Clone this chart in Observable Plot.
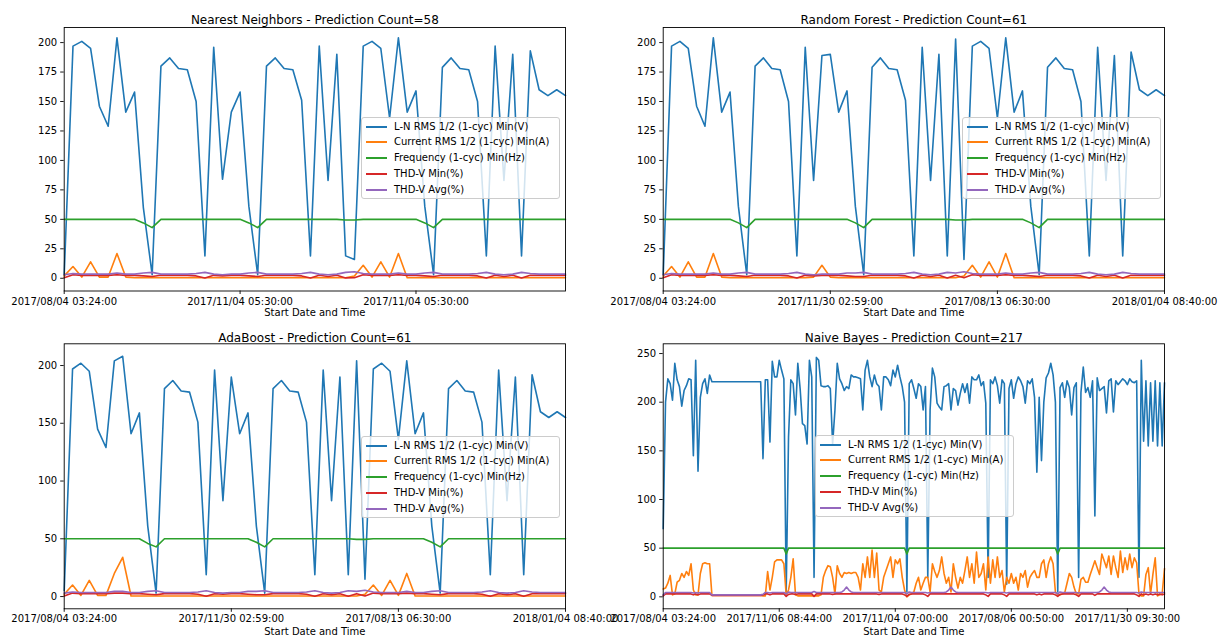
<!DOCTYPE html>
<html><head><meta charset="utf-8">
<script src="https://cdn.jsdelivr.net/npm/d3@7"></script>
<script src="https://cdn.jsdelivr.net/npm/@observablehq/plot@0.6"></script>
<style>
html,body{margin:0;padding:0;background:#fff;}
#root{position:relative;width:1224px;height:641px;overflow:hidden;font-family:"DejaVu Sans",sans-serif;}
.panel{position:absolute;}
.panel svg{overflow:visible;}
.legend{position:absolute;width:199px;height:82px;background:rgba(255,255,255,0.8);border:1px solid #cccccc;border-radius:3px;box-sizing:border-box;font-family:"DejaVu Sans",sans-serif;font-size:10px;color:#000;}
.legend .row{position:absolute;left:0;width:196px;height:14px;line-height:14px;white-space:nowrap;}
.legend .sw{position:absolute;left:4px;top:6px;width:21px;height:2px;}
.legend .lab{position:absolute;left:32px;top:0;}
</style></head>
<body><div id="root"></div>
<script>
// ---------- data ----------
const seriesNames = ["L-N RMS 1/2 (1-cyc) Min(V)", "Current RMS 1/2 (1-cyc) Min(A)", "Frequency (1-cyc) Min(Hz)", "THD-V Min(%)", "THD-V Avg(%)"];
const seriesColors = ["#1f77b4", "#ff7f0e", "#2ca02c", "#d62728", "#9467bd"];
const xAxisTitle = "Start Date and Time";

// Nearest Neighbors (58)
const nnTitle = "Nearest Neighbors - Prediction Count=58";
const nnVoltage = [3,197,201,195,146,129,204,141,158,60,
 3,180,187,178,177,150,19,196,84,141,
 158,61,3,180,187,178,177,151,19,197,
 83,190,19,16,197,201,195,136,204,141,
 159,61,3,179,187,178,177,150,19,197,
 83,190,19,193,160,155,160,155];
const nnCurrent = [2,10,1,14,1,1,21,1,0.5,0.5,
 0.5,0.5,0.5,0.5,0.5,0.5,0.5,0.5,0.5,0.5,
 0.5,0.5,0.5,0.5,0.5,0.5,0.5,0.5,0.5,0.5,
 0.5,0.5,0.5,2,11,1,14,1,21,0.5,
 0.5,0.5,0.5,0.5,0.5,0.5,0.5,0.5,0.5,0.5,
 0.5,0.5,0.5,0.5,0.5,0.5,0.5,0.5];
const nnFrequency = [50,50,50,50,50,50,50,50,50,47,
 43,50,50,50,50,50,50,50,50,50,
 50,47,43,50,50,50,50,50,50,50,
 50,50,49.5,49.5,50,50,50,50,50,50,
 50,47,43,50,50,50,50,50,50,50,
 50,50,50,50,50,50,50,50];
const nnThdMin = [0.5,3,2.5,2.5,2.5,2.5,3,2.5,2.5,2,
 1.5,2.5,2.5,2.5,2.5,2,0.3,2.5,2,2.5,
 2.5,2,1.5,2.5,2.5,2.5,2.5,2,0.3,2.5,
 1.5,2.5,0.3,0.5,3,2.5,2.5,2.5,3,2.5,
 2.5,2,1.5,2.5,2.5,2.5,2.5,2,0.3,2.5,
 1.5,2.5,0.3,2.5,2.5,2.5,2.5,2.5];
const nnThdAvg = [3,4,3.5,3.5,3.5,3.5,4.5,3.5,3.5,4.5,
 5,3.5,3.5,3.5,3.5,4,5,3.5,3,3.5,
 3.5,4.5,5,3.5,3.5,3.5,3.5,4,5,3.5,
 3,3.5,5,5.5,4,3.5,3.5,3.5,4.5,3.5,
 3.5,4.5,5,3.5,3.5,3.5,3.5,4,5,3.5,
 3,3.5,5,4,3.5,3.5,3.5,3.5];
const nnTickIndex = [0,20,40];
const nnTickLabels = ["2017/08/04 03:24:00","2017/11/04 05:30:00","2017/11/04 05:30:00"];
const nnYTicks = [0,25,50,75,100,125,150,175,200];

// Random Forest (61)
const rfTitle = "Random Forest - Prediction Count=61";
const rfVoltage = [3,197,201,195,146,129,204,141,158,61,
 3,180,187,178,177,150,19,196,83,189,
 190,141,159,61,3,179,187,178,177,151,
 19,196,83,190,19,203,16,197,201,195,
 136,204,141,159,61,3,179,187,178,177,
 150,19,196,83,189,19,192,160,155,160,155];
const rfCurrent = [2,10,1,14,1,1,21,1,0.5,0.5,
 0.5,0.5,0.5,0.5,0.5,0.5,0.5,0.5,1,11,
 1,0.5,0.5,0.5,0.5,0.5,0.5,0.5,0.5,0.5,
 0.5,0.5,0.5,0.5,0.5,0.5,2,11,1,14,
 1,21,0.5,0.5,0.5,0.5,0.5,0.5,0.5,0.5,
 0.5,0.5,0.5,0.5,0.5,0.5,0.5,0.5,0.5,0.5,0.5];
const rfFrequency = [50,50,50,50,50,50,50,50,50,47,
 43,50,50,50,50,50,50,50,50,50,
 50,50,50,47,43,50,50,50,50,50,
 50,50,50,50,50,49.5,49.5,50,50,50,
 50,50,50,50,47,43,50,50,50,50,
 50,50,50,50,50,50,50,50,50,50,50];
const rfThdMin = [0.5,3,2.5,2.5,2.5,2.5,3,2.5,2.5,2,
 1.5,2.5,2.5,2.5,2.5,2,0.3,2.5,2,2.5,
 2.5,2.5,2,1.5,1.5,2.5,2.5,2.5,2.5,2,
 0.3,2.5,1.5,2.5,0.3,2.5,0.5,3,2.5,2.5,
 2.5,3,2.5,2.5,2,1.5,2.5,2.5,2.5,2.5,
 2,0.3,2.5,1.5,2.5,0.3,2.5,2.5,2.5,2.5,2.5];
const rfThdAvg = [3,4,3.5,3.5,3.5,3.5,4.5,3.5,3.5,4.5,
 5,3.5,3.5,3.5,3.5,4,5,3.5,3,3.5,
 3.5,3.5,4.5,4.5,5,3.5,3.5,3.5,3.5,4,
 5,3.5,3,3.5,5,4.5,5.5,4,3.5,3.5,
 3.5,4.5,3.5,3.5,4.5,5,3.5,3.5,3.5,3.5,
 4,5,3.5,3,3.5,5,4,3.5,3.5,3.5,3.5];
const rfTickIndex = [0,20,40,60];
const rfTickLabels = ["2017/08/04 03:24:00","2017/11/30 02:59:00","2017/08/13 06:30:00","2018/01/04 08:40:00"];
const rfYTicks = [0,25,50,75,100,125,150,175,200];

// AdaBoost (61)
const abTitle = "AdaBoost - Prediction Count=61";
const abVoltage = [5,197,202,195,145,129,204,208,141,159,
 61,3,180,187,178,177,151,19,196,83,
 190,141,159,61,3,180,187,178,177,151,
 19,196,83,190,19,204,15,197,202,195,
 136,204,141,159,61,3,180,187,178,177,
 151,19,196,83,190,19,192,160,155,160,155];
const abCurrent = [2,10,1,14,1,1,20,34,0.5,0.5,
 0.5,0.5,0.5,0.5,0.5,0.5,0.5,0.5,0.5,0.5,
 0.5,0.5,0.5,0.5,0.5,0.5,0.5,0.5,0.5,0.5,
 0.5,0.5,0.5,0.5,0.5,0.5,2,10,1,14,
 1,20,0.5,0.5,0.5,0.5,0.5,0.5,0.5,0.5,
 0.5,0.5,0.5,0.5,0.5,0.5,0.5,0.5,0.5,0.5,0.5];
const abFrequency = [50,50,50,50,50,50,50,50,50,50,
 46,43,50,50,50,50,50,50,50,50,
 50,50,50,47,43,50,50,50,50,50,
 50,50,50,50,50,49.5,49.5,50,50,50,
 50,50,50,50,47,43,50,50,50,50,
 50,50,50,50,50,50,50,50,50,50,50];
const abThdMin = [0.5,3,2.5,2.5,2.5,2.5,3,3,2.5,2.5,
 2,1.5,2.5,2.5,2.5,2.5,2,0.3,2.5,2,
 2.5,2.5,2,1.5,1.5,2.5,2.5,2.5,2.5,2,
 0.3,2.5,1.5,2.5,0.3,2.5,0.5,3,2.5,2.5,
 2.5,3,2.5,2.5,2,1.5,2.5,2.5,2.5,2.5,
 2,0.3,2.5,1.5,2.5,0.3,2.5,2.5,2.5,2.5,2.5];
const abThdAvg = [3,4,3.5,3.5,3.5,3.5,4.5,4.5,3.5,3.5,
 4.5,5,3.5,3.5,3.5,3.5,4,5,3.5,3,
 3.5,3.5,4.5,4.5,5,3.5,3.5,3.5,3.5,4,
 5,3.5,3,3.5,5,4.5,5.5,4,3.5,3.5,
 3.5,4.5,3.5,3.5,4.5,5,3.5,3.5,3.5,3.5,
 4,5,3.5,3,3.5,5,4,3.5,3.5,3.5,3.5];
const abTickIndex = [0,20,40,60];
const abTickLabels = ["2017/08/04 03:24:00","2017/11/30 02:59:00","2017/08/13 06:30:00","2018/01/04 08:40:00"];
const abYTicks = [0,50,100,150,200];

// Naive Bayes (217)
const nbTitle = "Naive Bayes - Prediction Count=217";
const nbVoltage = [70,200,224,219,202,240,223,216,196,212,
 217,224,223,145,243,129,205,219,224,209,
 228,221,221,221,221,221,221,221,221,221,
 221,221,221,221,221,221,221,221,221,221,
 221,221,221,142,223,223,159,242,226,226,
 243,233,224,5,164,223,219,187,240,214,
 178,176,157,243,226,20,246,243,217,216,
 216,217,214,157,192,240,224,219,212,216,
 214,228,226,226,225,224,192,233,243,226,
 216,228,219,216,192,226,226,223,217,233,
 226,238,226,216,200,5,219,223,214,204,
 219,216,192,216,20,192,235,226,199,195,
 192,216,217,219,192,214,212,197,209,219,
 210,219,199,226,223,223,228,217,221,199,
 20,223,219,226,217,199,223,219,13,214,
 223,204,219,226,222,216,199,222,219,224,
 205,128,205,140,200,225,230,240,228,200,
 5,215,220,205,222,215,187,215,220,20,
 210,236,210,215,205,222,83,225,212,214,
 216,189,222,224,190,222,218,221,224,222,
 218,224,221,220,222,20,243,160,222,155,
 220,160,222,155,220,155,220];
const nbCurrent = [8,9,14,22,2,3,15,17,24,20,
 26,22,34,7,2,2,24,34,35,34,
 34,1.5,1.5,1.5,1.5,1.5,1.5,1.5,1.5,1.5,
 1.5,1.5,1.5,1.5,1.5,1.5,1.5,1.5,1.5,1.5,
 1.5,1.5,1.5,1,1,26,7,20,36,38,
 38,38,34,2,7,20,39,2,1,1,
 1,1,1,1,1,1,1,1,2,20,
 27,32,31,20,3,32,24,20,25,24,
 25,24,25,25,20,7,34,20,41,20,
 48,20,45,7,5,20,27,34,41,20,
 38,34,39,20,7,0,2,3,5,14,
 20,7,14,20,20,5,34,26,20,27,
 41,24,14,20,5,34,20,9,20,14,
 27,41,20,34,14,46,20,24,34,7,
 41,14,38,20,41,20,27,5,20,14,
 24,14,20,7,24,20,27,10,20,24,
 27,20,20,34,38,20,34,41,34,5,
 2,2,3,4,14,24,20,10,3,3,
 18,20,15,15,23,30,37,30,23,44,
 37,30,42,23,42,30,20,47,25,40,
 28,44,30,40,35,3,1,1,23,30,
 3,23,40,1,2,3,29];
const nbFrequency = [50,50,50,50,50,50,50,50,50,50,
 50,50,50,50,50,50,50,50,50,50,
 50,50,50,50,50,50,50,50,50,50,
 50,50,50,50,50,50,50,50,50,50,
 50,50,50,50,50,50,50,50,50,50,
 50,50,50,44,50,50,50,50,50,50,
 50,50,50,50,50,50,50,50,50,50,
 50,50,50,50,50,50,50,50,50,50,
 50,50,50,50,50,50,50,50,50,50,
 50,50,50,50,50,50,50,50,50,50,
 50,50,50,50,50,44,50,50,50,50,
 50,50,50,50,50,50,50,50,50,50,
 50,50,50,50,50,50,50,50,50,50,
 50,50,50,50,50,50,50,50,50,50,
 50,50,50,50,50,50,50,50,50,50,
 50,50,50,50,50,50,50,50,50,50,
 50,50,50,50,50,50,50,50,50,50,
 44,50,50,50,50,50,50,50,50,50,
 50,50,50,50,50,50,50,50,50,50,
 50,50,50,50,50,50,50,50,50,50,
 50,50,50,50,50,50,50,50,50,50,
 50,50,50,50,50,50,50];
const nbThdMin = [1,3,3,3,3,3,3,3,3,3,
 3,3,3,2,3,2,3,3,3,3,
 3,1.5,1.5,1.5,1.5,1.5,1.5,1.5,1.5,1.5,
 1.5,1.5,1.5,1.5,1.5,1.5,1.5,1.5,1.5,1.5,
 1.5,1.5,1.5,2,3,3,2,3,3,3,
 3,3,3,0.5,2.5,3,3,2.5,3,3,
 3,3,3,3,3,0.5,3,3,3,3,
 3,3,3,2.5,3,3,3,3,3,3,
 3,3,3,3,3,3,3,3,3,3,
 3,3,3,2.5,3,3,3,3,3,3,
 3,3,3,3,2,0.5,2.5,3,3,3,
 3,3,3,2,0.5,3,3,3,3,3,
 3,3,3,3,3,3,3,3,3,3,
 3,3,3,3,3,3,3,3,3,2,
 0.5,3,3,3,3,3,3,2,0.5,3,
 3,3,3,3,3,3,3,3,3,3,
 3,2,3,2,3,3,3,3,3,2,
 0.5,2.5,3,3,3,3,3,3,2,0.5,
 3,3,3,3,3,3,1.5,3,3,3,
 3,3,3,3,3,3,3,3,3,3,
 3,3,3,3,2,0.5,3,2,3,2,
 3,2,3,2,3,2,3];
const nbThdAvg = [2,4.5,4.5,4.5,4.5,4.5,4.5,4.5,4.5,4.5,
 4.5,4.5,4.5,4,4.5,4,4.5,4.5,4.5,4.5,
 4.5,2,2,2,2,2,2,2,2,2,
 2,2,2,2,2,2,2,2,2,2,
 2,2,2,2.5,4.5,4.5,4,4.5,4.5,4.5,
 4.5,4.5,4.5,3,5,4.5,4.5,4.5,4.5,4.5,
 4.5,4.5,4.5,4.5,4.5,5.5,4.5,4.5,4.5,4.5,
 4.5,4.5,4.5,4.5,4.5,4.5,4.5,5,7,10,
 7,5,4.5,4.5,4.5,4.5,4.5,4.5,4.5,4.5,
 4.5,4.5,4.5,4.5,4.5,4.5,4.5,4.5,4.5,4.5,
 4.5,4.5,4.5,4.5,4.5,3,5,4.5,4.5,4.5,
 4.5,4.5,4.5,4.5,4,4.5,4.5,4.5,4.5,4.5,
 4.5,4.5,5,7,10,7,5,4.5,4.5,4.5,
 4.5,4.5,4.5,4.5,4.5,4.5,4.5,4.5,4.5,4.5,
 4,4.5,4.5,4.5,4.5,4.5,4.5,4.5,4,4.5,
 4.5,4.5,4.5,4.5,4.5,4.5,4.5,4.5,4.5,4.5,
 4.5,4.5,4.5,4.5,4.5,4.5,4.5,4.5,4.5,4.5,
 3,5,4.5,4.5,4.5,4.5,4.5,4.5,4.5,4,
 4.5,4.5,4.5,4.5,4.5,4.5,4.5,4.5,5,7,
 10,7,5,4.5,4.5,4.5,4.5,4.5,4.5,4.5,
 4.5,4.5,4.5,4.5,4.5,4,5,4.5,4.5,4.5,
 4.5,4.5,4.5,4.5,4.5,4.5,4.5];
const nbTickIndex = [0,50,100,150,200];
const nbTickLabels = ["2017/08/04 03:24:00","2017/11/06 08:44:00","2017/11/04 07:00:00","2017/08/06 00:50:00","2017/11/30 09:30:00"];
const nbYTicks = [0,50,100,150,200,250];

// ---------- layout ----------
const panels = [
  {title: nnTitle, series: [nnVoltage, nnCurrent, nnFrequency, nnThdMin, nnThdAvg], ticks: nnTickIndex, labels: nnTickLabels, yTicks: nnYTicks,
   yDomain: [-10.8, 212.8], left: 0, top: 0, width: 612, height: 320, mt: 27, mb: 29.5, mr: 47, titleDy: -12, xlabDy: 24.5, legend: [361, 116.5]},
  {title: rfTitle, series: [rfVoltage, rfCurrent, rfFrequency, rfThdMin, rfThdAvg], ticks: rfTickIndex, labels: rfTickLabels, yTicks: rfYTicks,
   yDomain: [-10.8, 212.8], left: 599, top: 0, width: 625, height: 320, mt: 27, mb: 29.5, mr: 60, titleDy: -12, xlabDy: 24.5, legend: [962, 116.5]},
  {title: abTitle, series: [abVoltage, abCurrent, abFrequency, abThdMin, abThdAvg], ticks: abTickIndex, labels: abTickLabels, yTicks: abYTicks,
   yDomain: [-10.6, 218.8], left: 0, top: 320, width: 612, height: 321, mt: 23.3, mb: 32.7, mr: 47, titleDy: -10, xlabDy: 26, legend: [361, 435.5]},
  {title: nbTitle, series: [nbVoltage, nbCurrent, nbFrequency, nbThdMin, nbThdAvg], ticks: nbTickIndex, labels: nbTickLabels, yTicks: nbYTicks,
   yDomain: [-12.3, 260], left: 599, top: 320, width: 625, height: 321, mt: 23.3, mb: 32.7, mr: 60, titleDy: -10, xlabDy: 26, legend: [815, 434.7]}
];

const root = document.getElementById("root");

for (const p of panels) {
  const n = p.series[0].length;
  const idx = d3.range(n);
  const marks = [];
  p.series.forEach((arr, k) => {
    marks.push(Plot.line(idx, {x: (i) => i, y: (i) => arr[i], stroke: seriesColors[k], strokeWidth: 1.6}));
  });
  marks.push(Plot.frame({stroke: "#000", strokeWidth: 0.9}));
  marks.push(Plot.axisY({ticks: p.yTicks, tickSize: 3.5, tickPadding: 3.5, label: null, strokeWidth: 0.9}));
  marks.push(Plot.axisX({ticks: p.ticks, tickFormat: (d) => p.labels[p.ticks.indexOf(d)], tickSize: 3.5, tickPadding: 3, label: null, strokeWidth: 0.9}));
  marks.push(Plot.text([p.title], {text: (d) => d, frameAnchor: "top", dy: p.titleDy, fontSize: 12, fill: "#000"}));
  marks.push(Plot.text([xAxisTitle], {text: (d) => d, frameAnchor: "bottom", dy: p.xlabDy, fontSize: 10, fill: "#000"}));
  const svg = Plot.plot({
    width: p.width, height: p.height,
    marginLeft: 63.7, marginRight: p.mr, marginTop: p.mt, marginBottom: p.mb,
    x: {domain: [0, n - 1]},
    y: {domain: p.yDomain},
    style: {fontFamily: "DejaVu Sans, sans-serif", fontSize: "10px", background: "transparent", color: "#000", overflow: "visible"},
    marks
  });
  const div = document.createElement("div");
  div.className = "panel";
  div.style.left = p.left + "px";
  div.style.top = p.top + "px";
  div.style.width = p.width + "px";
  div.style.height = p.height + "px";
  div.appendChild(svg);
  root.appendChild(div);
}

// legends (HTML, on top)
for (const p of panels) {
  const lg = document.createElement("div");
  lg.className = "legend";
  lg.style.left = p.legend[0] + "px";
  lg.style.top = p.legend[1] + "px";
  seriesNames.forEach((name, k) => {
    const row = document.createElement("div");
    row.className = "row";
    row.style.top = (2 + k * 15.75) + "px";
    const sw = document.createElement("div");
    sw.className = "sw";
    sw.style.background = seriesColors[k];
    const lab = document.createElement("div");
    lab.className = "lab";
    lab.textContent = name;
    row.appendChild(sw);
    row.appendChild(lab);
    lg.appendChild(row);
  });
  root.appendChild(lg);
}
</script>
</body></html>
